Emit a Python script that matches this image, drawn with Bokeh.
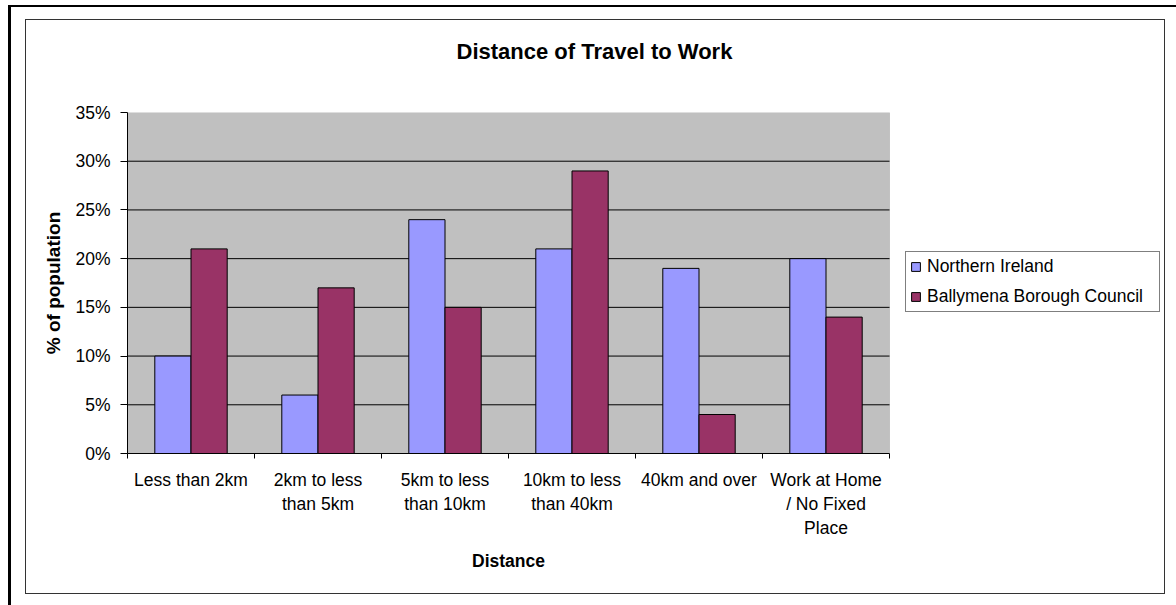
from bokeh.plotting import figure
from bokeh.models import (FixedTicker, PrintfTickFormatter, Range1d, ColumnDataSource,
                          Legend, LegendItem, Title, LinearAxis, BoxAnnotation)
from bokeh.embed import file_html
from bokeh.resources import INLINE

# ---- data ----
categories = ["Less than 2km", "2km to less\nthan 5km", "5km to less\nthan 10km",
              "10km to less\nthan 40km", "40km and over", "Work at Home\n/ No Fixed\nPlace"]
northern_ireland = [10, 6, 24, 21, 19, 20]
ballymena = [21, 17, 15, 29, 4, 14]
series_names = ["Northern Ireland", "Ballymena Borough Council"]
series_colors = ["#9999FF", "#993366"]
y_ticks = [0, 5, 10, 15, 20, 25, 30, 35]
chart_title = "Distance of Travel to Work"
x_title = "Distance"
y_title = "% of population"

FONT = "Liberation Sans"
BAR_W = 0.285

# layout constants (pixels)
FIG_W, FIG_H = 1138, 573
BORDER_L, BORDER_B, BORDER_T = 101, 140, 92
PLOT_W = 762                      # width of the grey plot area
FRAME_W = FIG_W - BORDER_L        # frame runs to the right edge (legend lives there)

n = len(categories)
y_max = y_ticks[-1]
centers = [i + 0.5 for i in range(n)]
series_values = [northern_ireland, ballymena]

p = figure(width=FIG_W, height=FIG_H, output_backend="svg", toolbar_location=None,
           x_range=Range1d(0, n * FRAME_W / PLOT_W), y_range=Range1d(0, y_max),
           min_border_left=BORDER_L, min_border_right=0, min_border_top=BORDER_T,
           min_border_bottom=BORDER_B, background_fill_color="white",
           border_fill_color="white", outline_line_color=None)
p.styles = {"margin-left": "26px", "margin-top": "20px",
            "outline": "1px solid #333333",
            "box-shadow": "1px 3px 0 16px white, -2px 1px 0 16px black"}

# grey plot area
p.add_layout(BoxAnnotation(left=0, right=n, bottom=0, top=y_max,
                           fill_color="#C0C0C0", fill_alpha=1,
                           line_color="#808080", line_width=1, level="underlay"))

# horizontal gridlines (inner ticks only)
g = y_ticks[1:-1]
p.segment(x0=[0] * len(g), x1=[n] * len(g), y0=g, y1=g, line_color="black",
          line_width=1)
p.xgrid.visible = False
p.ygrid.visible = False

# invisible spacer between frame and title (pushes the title upwards)
p.add_layout(Title(text="\u00a0", text_font_size="1px", standoff=46), "above")
p.title = Title(text=chart_title, align="left", offset=329, standoff=0,
                vertical_align="bottom",
                text_font=FONT, text_font_size="22px", text_font_style="bold",
                text_color="black")

renderers = []
offsets = [-BAR_W / 2, BAR_W / 2]
for vals, col, off in zip(series_values, series_colors, offsets):
    src = ColumnDataSource(dict(x=[c + off for c in centers], top=vals))
    renderers.append(p.vbar(x="x", top="top", width=BAR_W, source=src, fill_color=col,
                            line_color="black", line_width=1))

# y axis
yax = p.yaxis[0]
yax.ticker = FixedTicker(ticks=y_ticks)
yax.formatter = PrintfTickFormatter(format="%d%%")
yax.major_tick_out = 7
yax.major_tick_in = 0
yax.minor_tick_out = 0
yax.minor_tick_in = 0
yax.axis_line_color = "black"
yax.major_tick_line_color = "black"
yax.major_label_standoff = 10
yax.major_label_text_font = FONT
yax.major_label_text_font_size = "17.5px"
yax.major_label_text_color = "black"
yax.axis_label = y_title
yax.axis_label_standoff = 8
yax.axis_label_text_font = FONT
yax.axis_label_text_font_size = "19px"
yax.axis_label_text_font_style = "bold"
yax.axis_label_text_color = "black"

# x axis (category labels, boundary ticks)
xax = p.xaxis[0]
xax.bounds = (0, n)
xax.ticker = FixedTicker(ticks=centers, minor_ticks=list(range(n + 1)))
xax.major_label_overrides = {c: lab for c, lab in zip(centers, categories)}
xax.major_tick_out = 0
xax.major_tick_in = 0
xax.major_tick_line_color = None
xax.minor_tick_out = 5
xax.minor_tick_in = 0
xax.minor_tick_line_color = "black"
xax.axis_line_color = "black"
xax.major_label_standoff = 11
xax.major_label_text_font = FONT
xax.major_label_text_font_size = "17.5px"
xax.major_label_text_color = "black"
xax.major_label_text_line_height = 1.2

# second axis below carrying the x title, centred on the plot area
ax2 = LinearAxis(bounds=(0, n), ticker=FixedTicker(ticks=[n / 2], minor_ticks=[]),
                 major_label_overrides={n / 2: x_title},
                 major_tick_out=0, major_tick_in=0, minor_tick_out=0, minor_tick_in=0,
                 major_tick_line_color=None, minor_tick_line_color=None,
                 axis_line_color=None, major_label_standoff=10,
                 major_label_text_font=FONT, major_label_text_font_size="17.5px",
                 major_label_text_font_style="bold", major_label_text_color="black")
p.add_layout(ax2, "below")

# legend (inside the extended frame, right of the plot area)
lg = Legend(items=[LegendItem(label=nm, renderers=[r])
                   for nm, r in zip(series_names, renderers)],
            location=(778, 141))
lg.border_line_color = "black"
lg.border_line_width = 1
lg.background_fill_color = "white"
lg.background_fill_alpha = 1
lg.padding = 4
lg.spacing = 9
lg.margin = 0
lg.glyph_height = 11
lg.glyph_width = 11
lg.label_standoff = 6
lg.label_height = 19
lg.label_width = 228
lg.label_text_font = FONT
lg.label_text_font_size = "17.5px"
lg.label_text_color = "black"
p.add_layout(lg)

open("out.html", "w").write(file_html(p, INLINE))
